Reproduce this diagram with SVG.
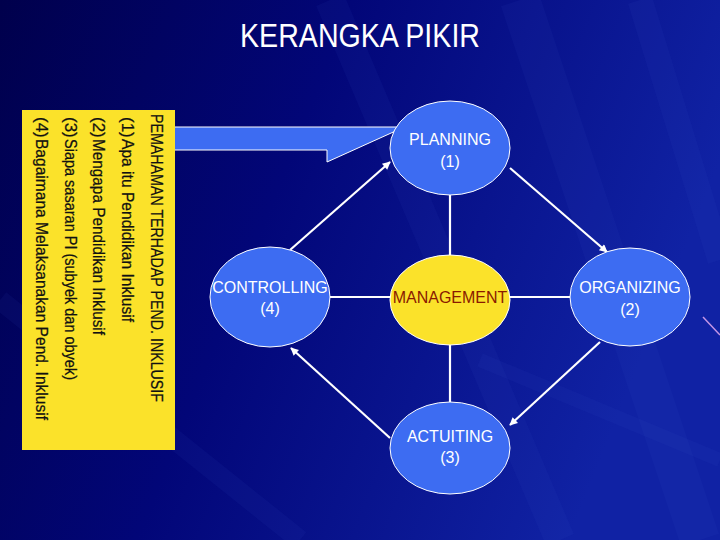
<svg xmlns="http://www.w3.org/2000/svg" width="720" height="540" viewBox="0 0 720 540">
  <defs>
    <linearGradient id="bg" x1="0" y1="0" x2="1" y2="0.3">
      <stop offset="0" stop-color="#00004c"/>
      <stop offset="0.45" stop-color="#020678"/>
      <stop offset="1" stop-color="#1022a4"/>
    </linearGradient>
    <marker id="arr" viewBox="0 0 10 10" refX="9" refY="5" markerWidth="10" markerHeight="8" markerUnits="userSpaceOnUse" orient="auto">
      <path d="M0,0 L10,5 L0,10 Z" fill="#ffffff"/>
    </marker>
    <style>
      .ell { fill: #3d6cf2; stroke: #ffffff; stroke-width: 1; }
      .lbl { font-family: "Liberation Sans", Arial, sans-serif; font-size: 16px; fill: #ffffff; text-anchor: middle; }
      .ytxt { font-family: "Liberation Sans", Arial, sans-serif; font-size: 17px; fill: #111111; stroke: #111111; stroke-width: 0.25; }
      .conn { stroke: #ffffff; stroke-width: 2.2; fill: none; }
      .streak { stroke: #3a55d0; fill: none; opacity: 0.08; }
    </style>
  </defs>

  <rect x="0" y="0" width="720" height="540" fill="url(#bg)"/>
  <g id="background-streaks">
    <path class="streak" d="M330,0 L560,540" stroke-width="30"/>
    <path class="streak" d="M520,0 L700,540" stroke-width="40"/>
    <path class="streak" d="M640,0 L720,260" stroke-width="25"/>
    <path class="streak" d="M0,300 L300,540" stroke-width="20"/>
    <path class="streak" d="M480,360 L720,460" stroke-width="14"/>
  </g>
  <line x1="703" y1="317" x2="720" y2="335" stroke="#c596e6" stroke-width="1.5"/>

  <text id="title" x="360" y="47" font-family="'Liberation Sans', Arial, sans-serif" font-size="34" fill="#ffffff" text-anchor="middle" textLength="240" lengthAdjust="spacingAndGlyphs">KERANGKA PIKIR</text>

  <g id="callout">
    <polygon points="174,127 400,127 400,129 327,162 327,150 174,150" fill="#3d6cf2" stroke="#ffffff" stroke-width="1"/>
  </g>

  <g id="info-box">
    <rect x="22" y="110" width="153" height="340" fill="#fbe22a"/>
    <text class="ytxt" transform="translate(151,114) rotate(90)" textLength="288" lengthAdjust="spacingAndGlyphs">PEMAHAMAN TERHADAP PEND. INKLUSIF</text>
    <text class="ytxt" transform="translate(122,117) rotate(90)">(1)</text>
    <text class="ytxt" transform="translate(122,139) rotate(90)" textLength="183" lengthAdjust="spacingAndGlyphs">Apa itu Pendidikan Inklusif</text>
    <text class="ytxt" transform="translate(93,117) rotate(90)">(2)</text>
    <text class="ytxt" transform="translate(93,139) rotate(90)" textLength="196" lengthAdjust="spacingAndGlyphs">Mengapa Pendidikan Inklusif</text>
    <text class="ytxt" transform="translate(65,117) rotate(90)">(3)</text>
    <text class="ytxt" transform="translate(65,139) rotate(90)" textLength="241" lengthAdjust="spacingAndGlyphs">Siapa sasaran PI (subyek dan obyek)</text>
    <text class="ytxt" transform="translate(36,117) rotate(90)">(4)</text>
    <text class="ytxt" transform="translate(36,139) rotate(90)" textLength="281" lengthAdjust="spacingAndGlyphs">Bagaimana Melaksanakan Pend. Inklusif</text>
  </g>

  <g id="connectors">
    <line class="conn" x1="450" y1="195" x2="450" y2="256"/>
    <line class="conn" x1="450" y1="344" x2="450" y2="403"/>
    <line class="conn" x1="330" y1="297" x2="391" y2="297"/>
    <line class="conn" x1="509" y1="297" x2="570" y2="297"/>
    <line class="conn" x1="290" y1="250" x2="390" y2="162" marker-end="url(#arr)"/>
    <line class="conn" x1="510" y1="168" x2="607" y2="252" marker-end="url(#arr)"/>
    <line class="conn" x1="390" y1="438" x2="291" y2="348" marker-end="url(#arr)"/>
    <line class="conn" x1="600" y1="342" x2="510" y2="425" marker-end="url(#arr)"/>
  </g>

  <g id="planning">
    <ellipse class="ell" cx="450" cy="148" rx="60" ry="47"/>
    <text class="lbl" x="450" y="145">PLANNING</text>
    <text class="lbl" x="450" y="167">(1)</text>
  </g>
  <g id="controlling">
    <ellipse class="ell" cx="270" cy="297" rx="60" ry="50"/>
    <text class="lbl" x="270" y="293">CONTROLLING</text>
    <text class="lbl" x="270" y="314">(4)</text>
  </g>
  <g id="management">
    <ellipse cx="450" cy="300" rx="60" ry="45" fill="#fbe22a" stroke="#ffffff" stroke-width="1"/>
    <text class="lbl" x="450" y="303" style="fill:#8a1a00">MANAGEMENT</text>
  </g>
  <g id="organizing">
    <ellipse class="ell" cx="630" cy="297" rx="60" ry="49"/>
    <text class="lbl" x="630" y="293">ORGANIZING</text>
    <text class="lbl" x="630" y="315">(2)</text>
  </g>
  <g id="actuiting">
    <ellipse class="ell" cx="450" cy="448" rx="60" ry="46"/>
    <text class="lbl" x="450" y="442">ACTUITING</text>
    <text class="lbl" x="450" y="463">(3)</text>
  </g>
</svg>
